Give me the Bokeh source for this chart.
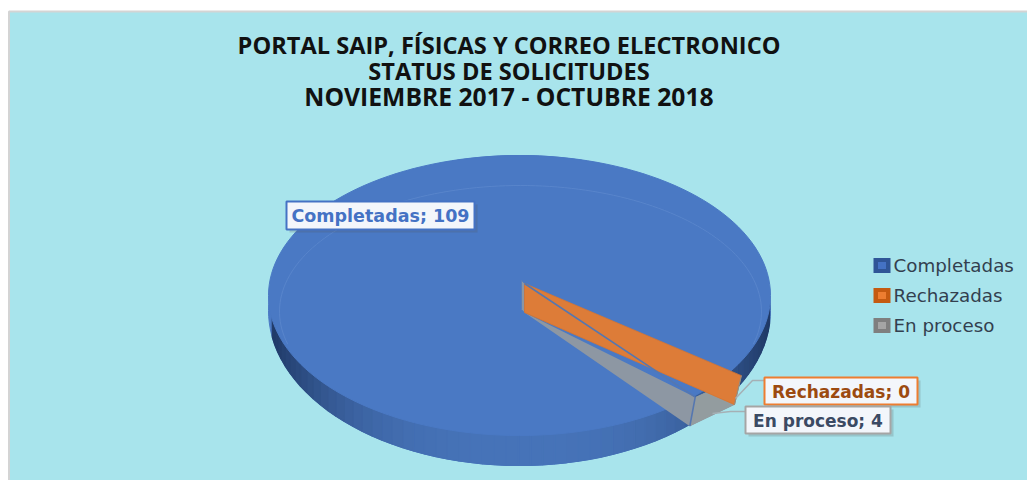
import math
from bokeh.plotting import figure
from bokeh.models import Range1d
from bokeh.core.properties import value
from bokeh.embed import file_html
from bokeh.resources import INLINE

title_lines = ["PORTAL SAIP, FÍSICAS Y CORREO ELECTRONICO", "STATUS DE SOLICITUDES", "NOVIEMBRE 2017 - OCTUBRE 2018"]
categories = ["Completadas", "Rechazadas", "En proceso"]
values = [109, 0, 4]
legend_dark = ["#2f5597", "#c55a11", "#7f7f7f"]
legend_light = ["#4472c4", "#ed7d31", "#a5a5a5"]
label_text = ["#4472c4", "#9c4a10", "#3b4a63"]
label_line = ["#4472c4", "#ed7d31", "#a5a5a5"]
first_slice_angle = 143.2

p = figure(width=1027, height=480, x_range=Range1d(0, 1027), y_range=Range1d(480, 0),
           toolbar_location=None, output_backend="svg", min_border=0,
           x_axis_location=None, y_axis_location=None, outline_line_color=None,
           background_fill_color="white", border_fill_color="white")
p.grid.visible = False

# chart area
p.quad(left=[8.5], right=[1030], top=[11], bottom=[484], fill_color="#a8e4ec", line_color="#d4d4d4", line_width=2)

def ell(cx, cy, rx, ry, t):
    r = math.radians(t)
    return cx + rx * math.cos(r), cy + ry * math.sin(r)

def arc(cx, cy, rx, ry, a, b, n=60):
    return [ell(cx, cy, rx, ry, a + (b - a) * i / n) for i in range(n + 1)]

def poly(pts, **kw):
    p.patch([q[0] for q in pts], [q[1] for q in pts], **kw)

def mix(c1, c2, f):
    a = [int(c1[i:i+2], 16) for i in (1, 3, 5)]
    b = [int(c2[i:i+2], 16) for i in (1, 3, 5)]
    return "#%02x%02x%02x" % tuple(round(a[i] + (b[i] - a[i]) * f) for i in range(3))

# body of the pie: silhouette, shaded side wall, top face, rim line
OUT = (519, 310, 251, 155)
TOP = (519, 295, 251, 140)
RIM = (520, 311, 241, 126)
poly(arc(*OUT, 0, 360, 160), fill_color="#4a79c4", line_color="#4a79c4")
N = 60
A0, A1 = 5, 170
for i in range(N):
    a = A0 + i * (A1 - A0) / N
    b = A0 + (i + 1) * (A1 - A0) / N
    q1, q2 = ell(*OUT, a), ell(*OUT, b)
    f = abs((q1[0] + q2[0]) / 2 - OUT[0]) / OUT[2]
    col = mix("#4673b8", "#1f3864", min(f, 1) ** 3)
    poly([q1, q2, (q2[0], OUT[1] - 10), (q1[0], OUT[1] - 10)], fill_color=col, line_color=col, line_width=1.2)
poly(arc(*TOP, 0, 360, 160), fill_color="#4a79c4", line_color="#4a79c4")
rim = arc(*RIM, 165, 375, 120)
p.line([q[0] for q in rim], [q[1] for q in rim], line_color="#5c88cd", line_width=0.8)

# slice boundaries, from the values
total = sum(values)
ends = []
ang = first_slice_angle
for v in values:
    ang += v / total * 360
    ends.append(ang)
# clockwise from 12 o'clock on the projected disc
def proj(theta, cx, cy, rx, ry):
    r = math.radians(theta - 90)
    return cx + rx * math.cos(r), cy + ry * math.sin(r)
AP_T = (524, 283, 285, 142)
AP_B = (524, 312, 276, 142)
a_or = ends[1] % 360      # completadas/rechazadas boundary and rechazadas/en proceso
a_bl = ends[2] % 360      # en proceso/completadas boundary
t_or, b_or = proj(a_or, *AP_T), proj(a_or, *AP_B)
t_bl, b_bl = proj(a_bl, *AP_T), proj(a_bl, *AP_B)
apex_t, apex_b = AP_T[:2], AP_B[:2]

# apex sliver
poly([(521, 280), apex_t, apex_b, (521, 309)], fill_color="#8b96a6", line_color="#5b7fb8", line_width=1)
# grey wedge: floor and outer wall
poly([apex_b, b_bl, b_or, t_or, t_bl], fill_color="#8d97a3", line_color=None)
poly([t_bl, b_bl, b_or, t_or], fill_color="#939c9f", line_color=None)
# orange wall of the zero-valued slice
poly([apex_t, t_or, b_or, apex_b], fill_color="#dd7c38", line_color="#d87530", line_width=0.8)
# blue cut of the big slice
p.line([apex_t[0], t_bl[0], b_bl[0]], [apex_t[1], t_bl[1], b_bl[1]], line_color="#5577b0", line_width=1.6)
p.line([b_or[0], t_or[0]], [b_or[1], t_or[1]], line_color="#8d8f8a", line_width=1)

# data labels
boxes = [(286, 201, 474, 229), (764, 377, 917, 404), (745, 406, 890, 433)]
leaders = [None, [(735, 398), (752, 380), (764, 380)], [(712, 413), (730, 411), (745, 411)]]
sizes = [17.5, 17, 17]
for i, c in enumerate(categories):
    l, t, r, b = boxes[i]
    if leaders[i]:
        p.line([q[0] for q in leaders[i]], [q[1] for q in leaders[i]], line_color="#a5b0b5", line_width=1.5)
    p.quad(left=[l + 3], right=[r + 3], top=[t + 3], bottom=[b + 3], fill_color="#555555", fill_alpha=0.22, line_color=None)
    p.quad(left=[l], right=[r], top=[t], bottom=[b], fill_color="#f3f6fb", line_color=label_line[i], line_width=2)
    p.text([(l + r) / 2], [(t + b) / 2 + 0.5], [f"{c}; {values[i]}"], text_color=label_text[i], text_font=value("DejaVu Sans"),
           text_font_style="bold", text_font_size=f"{sizes[i]}px", text_align="center", text_baseline="middle")

# title
for y, s, fs in zip([44, 70, 96], title_lines, ["23.6px", "23.6px", "24.7px"]):
    p.text([508.5], [y], [s], text_color="#111111", text_font=value("Open Sans"), text_font_style="bold",
           text_font_size=fs, text_align="center", text_baseline="middle")

# legend
for y, c, d, li in zip([265, 295, 325], categories, legend_dark, legend_light):
    p.quad(left=[873], right=[890], top=[y - 7.5], bottom=[y + 7.5], fill_color=d, line_color=None)
    p.quad(left=[877.5], right=[885.5], top=[y - 3.5], bottom=[y + 3.5], fill_color=li, line_color=None)
    p.text([893], [y], [c], text_color="#333f4f", text_font=value("DejaVu Sans"), text_font_size="18.3px",
           text_align="left", text_baseline="middle")

open("out.html", "w").write(file_html(p, INLINE))
